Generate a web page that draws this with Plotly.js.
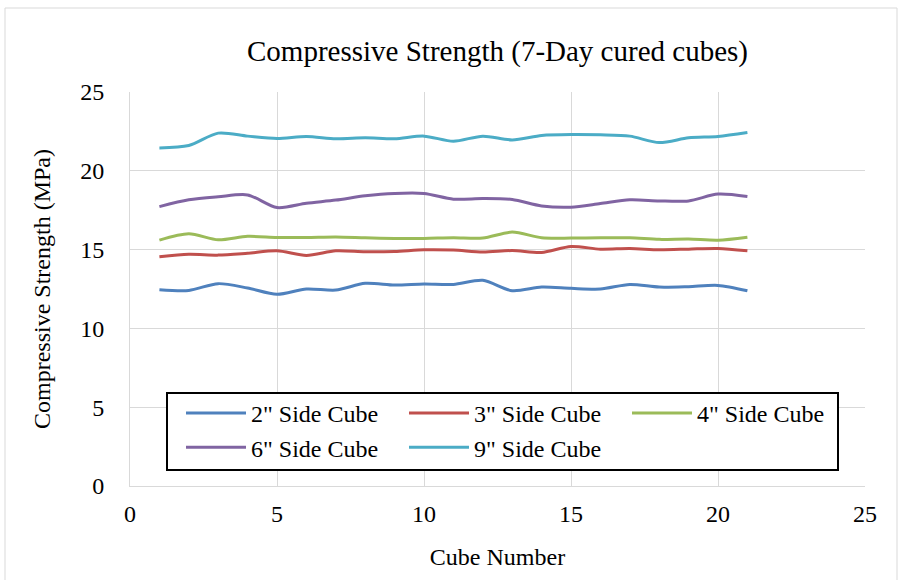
<!DOCTYPE html>
<html>
<head>
<meta charset="utf-8">
<script src="https://cdn.plot.ly/plotly-3.0.1.min.js"></script>
<style>html,body{margin:0;padding:0;background:#fff;}#chart{width:898px;height:580px;}</style>
</head>
<body>
<div id="chart"></div>
<script>
const cubeNumbers = [1,2,3,4,5,6,7,8,9,10,11,12,13,14,15,16,17,18,19,20,21];
const seriesNames = ['2" Side Cube','3" Side Cube','4" Side Cube','6" Side Cube','9" Side Cube'];
const side2 = [12.46,12.41,12.84,12.56,12.16,12.50,12.43,12.86,12.75,12.81,12.79,13.05,12.39,12.62,12.54,12.50,12.79,12.62,12.65,12.73,12.39];
const side3 = [14.54,14.71,14.65,14.77,14.92,14.63,14.92,14.86,14.88,14.99,14.97,14.84,14.94,14.82,15.20,15.03,15.07,14.99,15.03,15.07,14.92];
const side4 = [15.60,16.00,15.62,15.84,15.77,15.77,15.80,15.75,15.71,15.71,15.75,15.73,16.11,15.75,15.73,15.75,15.75,15.65,15.67,15.60,15.79];
const side6 = [17.73,18.16,18.35,18.47,17.67,17.94,18.14,18.41,18.56,18.56,18.20,18.24,18.18,17.77,17.69,17.92,18.16,18.09,18.09,18.52,18.37];
const side9 = [21.45,21.60,22.39,22.20,22.05,22.18,22.03,22.09,22.03,22.20,21.88,22.20,21.96,22.24,22.30,22.28,22.20,21.79,22.09,22.18,22.43];
const colors = ['#4F81BD','#C0504D','#9BBB59','#8064A2','#4BACC6'];
const allSeries = [side2, side3, side4, side6, side9];

const traces = allSeries.map((ys, i) => ({
  x: cubeNumbers, y: ys, type: 'scatter', mode: 'lines', name: seriesNames[i],
  line: {color: colors[i], width: 3, shape: 'spline', smoothing: 0.8}
}));

const fam = 'Liberation Serif, Times New Roman, serif';
const f = s => ({size: s, family: fam, color: '#000'});
const L = 130, W = 735, B = 486, H = 394;
const px = v => (v - L) / W;
const py = v => (B - v) / H;
const layout = {
  width: 898, height: 580,
  margin: {l: 130, r: 33, t: 92, b: 94},
  paper_bgcolor: '#fff', plot_bgcolor: '#fff',
  font: f(24),
  title: {text: 'Compressive Strength (7-Day cured cubes)', font: f(29),
          x: 0.5, xanchor: 'center', xref: 'paper', y: 0.912, yanchor: 'middle'},
  xaxis: {range: [0, 25], dtick: 5, tick0: 0, showgrid: true, gridcolor: '#d9d9d9', gridwidth: 1,
          zeroline: false, showline: true, linecolor: '#d9d9d9', linewidth: 1,
          ticks: '', ticklabelstandoff: 6, tickfont: f(24),
          title: {text: 'Cube Number', font: f(24), standoff: 22}},
  yaxis: {range: [0, 25], dtick: 5, tick0: 0, showgrid: true, gridcolor: '#d9d9d9', gridwidth: 1,
          zeroline: false, showline: true, linecolor: '#d9d9d9', linewidth: 1,
          ticks: '', ticklabelstandoff: 20, tickfont: f(24),
          title: {text: 'Compressive Strength (MPa)', font: f(24), standoff: 22}},
  legend: {orientation: 'h', x: px(181), xanchor: 'left', y: py(391), yanchor: 'top',
           bgcolor: 'rgba(0,0,0,0)', borderwidth: 0,
           entrywidth: 148, entrywidthmode: 'pixels', itemwidth: 60,
           font: f(24), traceorder: 'normal'},
  shapes: [
    {type: 'rect', xref: 'paper', yref: 'paper',
     x0: px(5), x1: px(897), y0: py(585), y1: py(8),
     line: {color: '#d9d9d9', width: 1}, fillcolor: 'rgba(0,0,0,0)', layer: 'below'},
    {type: 'rect', xref: 'paper', yref: 'paper',
     x0: px(167), x1: px(838), y0: py(470), y1: py(393),
     line: {color: '#000', width: 2}, fillcolor: '#fff', layer: 'above'}
  ],
  showlegend: true
};
Plotly.newPlot('chart', traces, layout, {displayModeBar: false, staticPlot: true});
</script>
</body>
</html>
